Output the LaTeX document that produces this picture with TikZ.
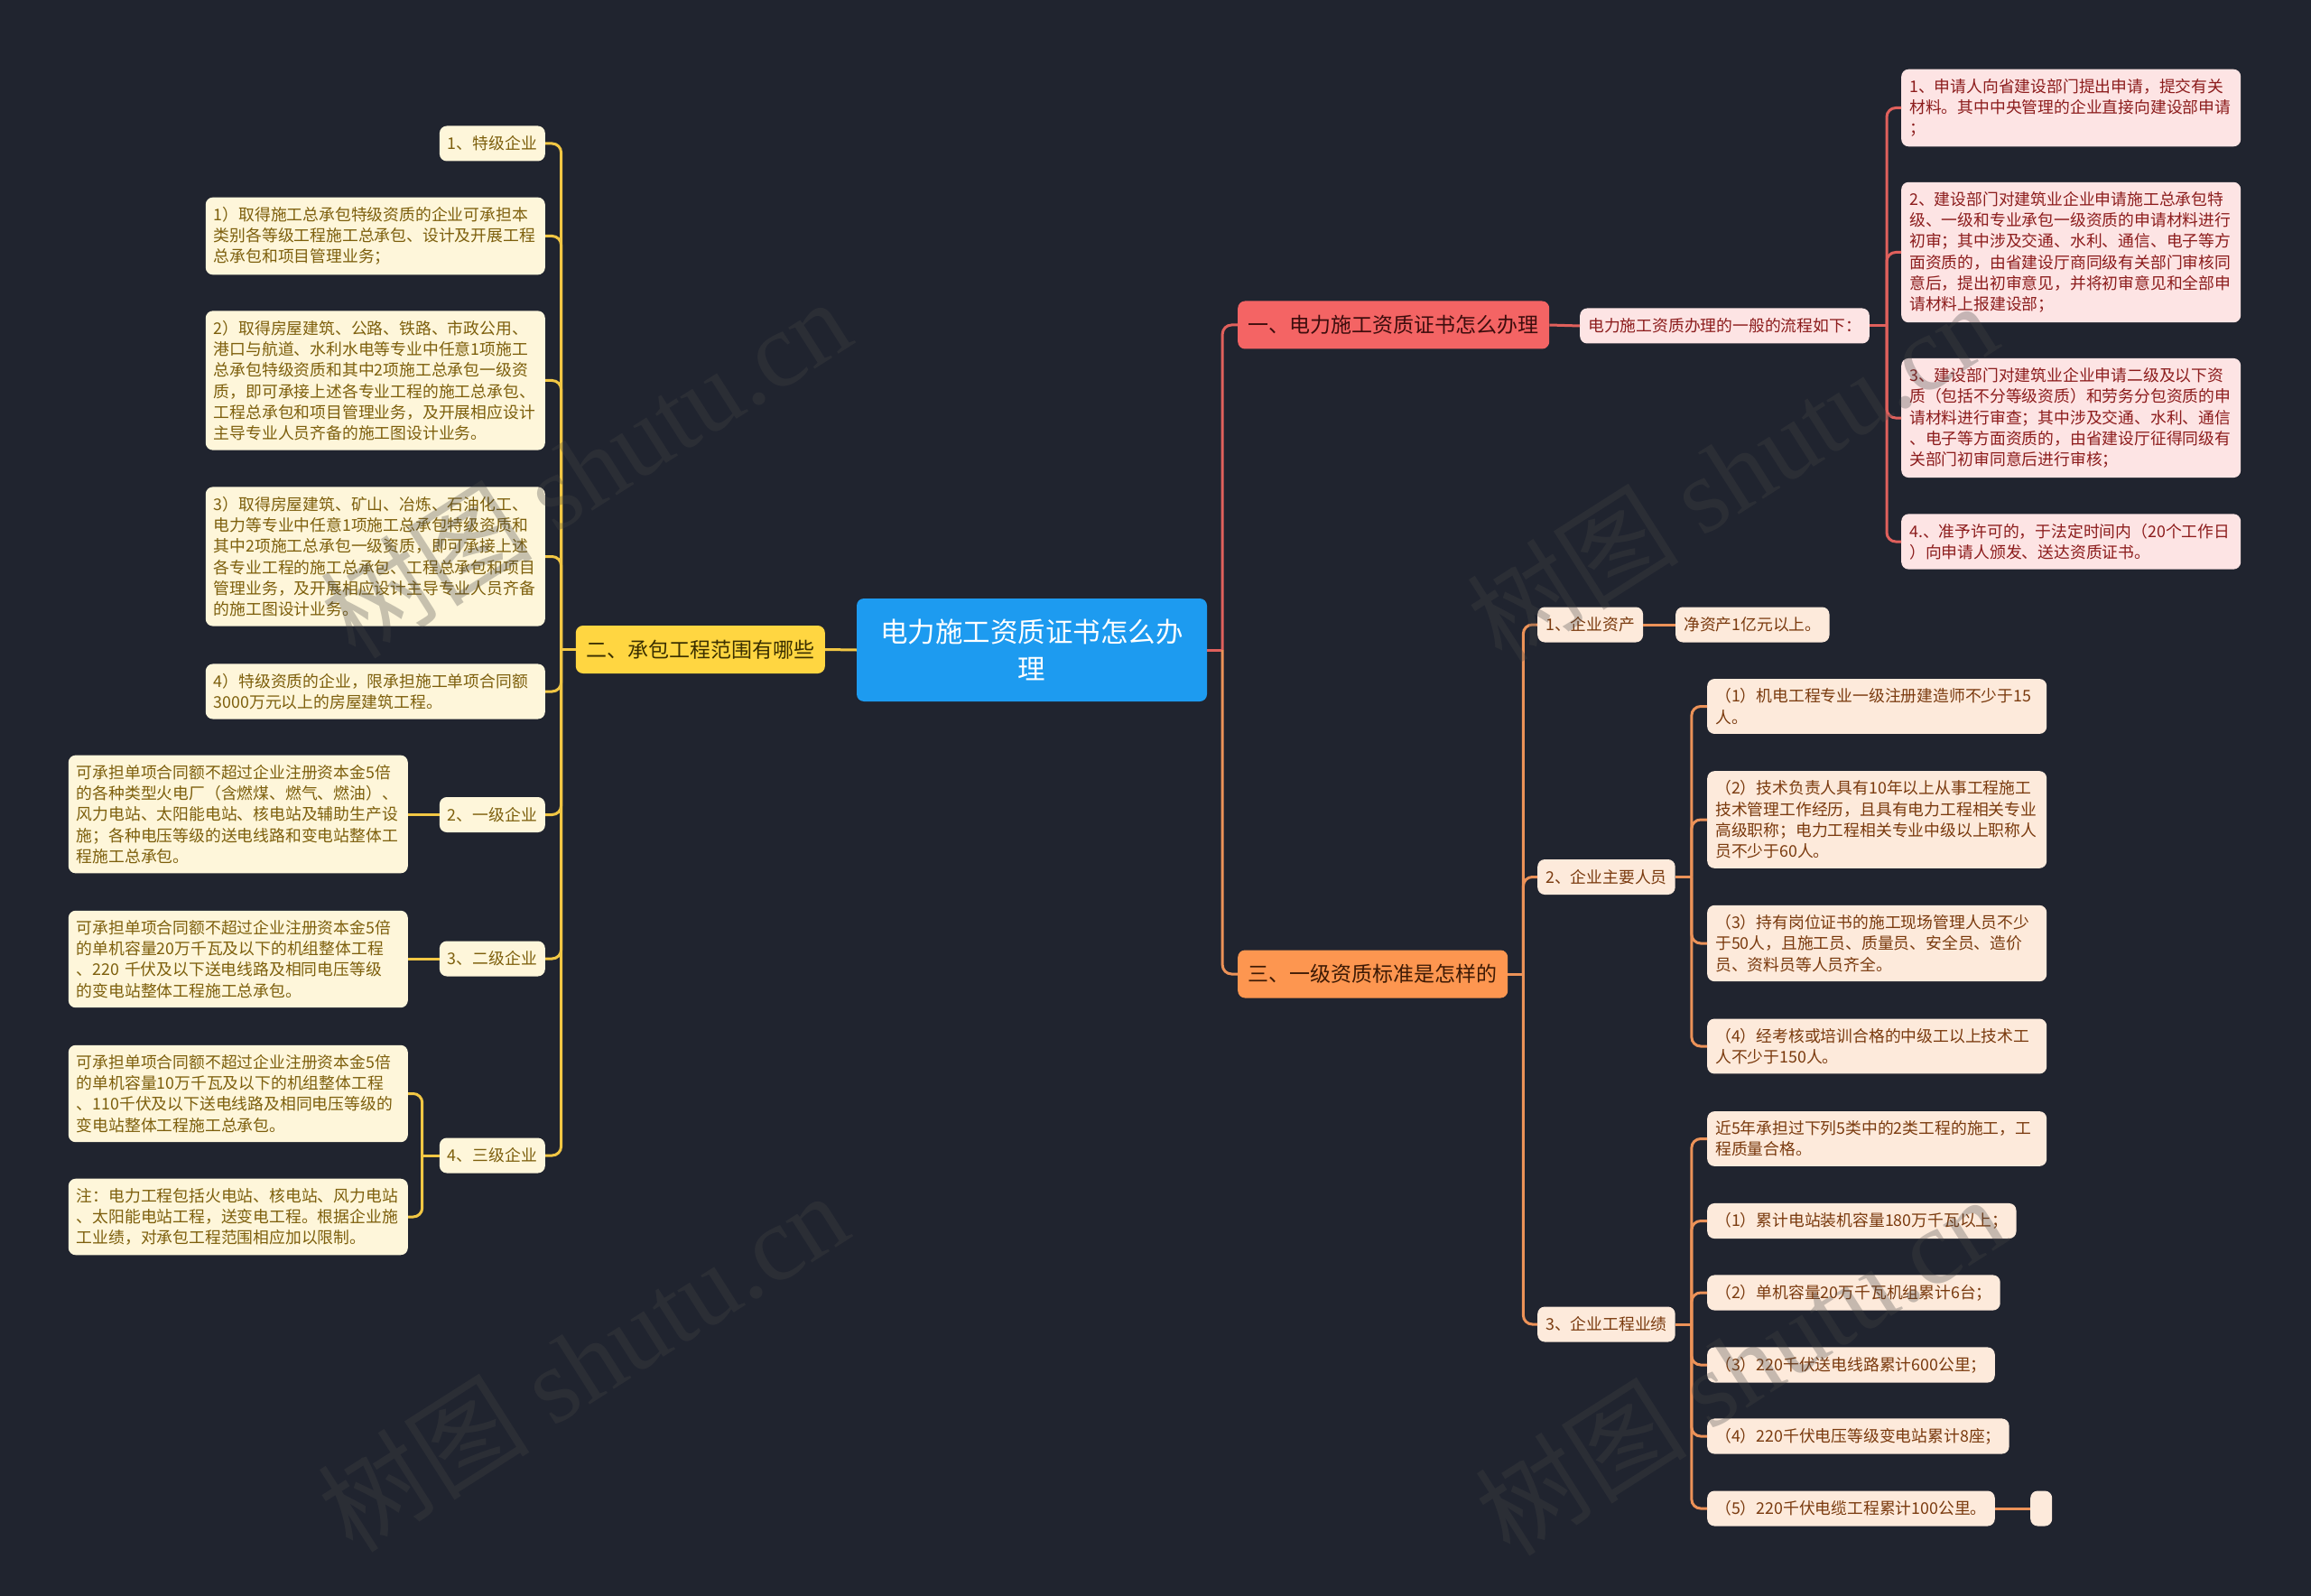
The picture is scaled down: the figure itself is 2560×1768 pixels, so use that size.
\documentclass[tikz,border=0pt]{standalone}
\usepackage{fontspec}
\setmainfont{Noto Sans CJK SC}
\newfontfamily\wmfont{Liberation Serif}
\definecolor{bgnavy}{HTML}{20242F}
\definecolor{rootblue}{HTML}{1D9BF0}
\definecolor{redfill}{HTML}{F46464}
\definecolor{redline}{HTML}{E0605C}
\definecolor{redtext}{HTML}{3D0D0D}
\definecolor{pinkfill}{HTML}{FDE4E4}
\definecolor{pinktext}{HTML}{8C1C1C}
\definecolor{yelfill}{HTML}{FFD641}
\definecolor{yelline}{HTML}{F2C744}
\definecolor{yeltext}{HTML}{3A2F00}
\definecolor{creamfill}{HTML}{FEF6DA}
\definecolor{creamtext}{HTML}{7D5F0C}
\definecolor{orfill}{HTML}{FD9650}
\definecolor{orline}{HTML}{EC9258}
\definecolor{ortext}{HTML}{3D1A05}
\definecolor{peachfill}{HTML}{FDEADB}
\definecolor{peachtext}{HTML}{7A3A0E}
\definecolor{wmgray}{HTML}{464646}

\begin{document}
\begin{tikzpicture}[x=1pt, y=-1pt,
  mapbox/.style={rounded corners=8pt, align=left},
  leaf/.style={mapbox, font=\fontsize{17.8}{23.3}\selectfont, inner xsep=9pt, inner ysep=10.5pt, minimum height=39pt},
  wideleaf/.style={text width=358pt},
  rleaf/.style={leaf, fill=pinkfill, text=pinktext},
  yleaf/.style={leaf, fill=creamfill, text=creamtext},
  oleaf/.style={leaf, fill=peachfill, text=peachtext},
  branch/.style={mapbox, font=\fontsize{23}{28}\selectfont, inner xsep=11.5pt, minimum height=53pt},
  rlink/.style={redline, line width=3pt},
  ylink/.style={yelline, line width=3pt},
  olink/.style={orline, line width=3pt},
  wmark/.style={text=wmgray, opacity=0.3, font=\fontsize{118}{120}\selectfont, rotate=32.5}]

\fill[bgnavy] (0,0) rectangle (2560,1768);

% centre and main branches
\node[mapbox, fill=rootblue, text=white, align=center, font=\fontsize{30.5}{41.7}\selectfont,
  minimum width=388pt, minimum height=114pt] (root) at (1143,720) {电力施工资质证书怎么办\\理};
\node[branch, fill=redfill, text=redtext, anchor=west] (rb) at (1371,360) {一、电力施工资质证书怎么办理};
\node[branch, fill=yelfill, text=yeltext, anchor=east] (yb) at (914,719.5) {二、承包工程范围有哪些};
\node[branch, fill=orfill, text=ortext, anchor=west] (ob) at (1371,1079) {三、一级资质标准是怎样的};

% branch one
\node[rleaf, anchor=west] (flow) at (1750,361) {电力施工资质办理的一般的流程如下：};
\node[rleaf, wideleaf, anchor=west] (p1) at (2106,119.5) {1、申请人向省建设部门提出申请，提交有关\\材料。其中中央管理的企业直接向建设部申请\\；};
\node[rleaf, wideleaf, anchor=west] (p2) at (2106,279.5) {2、建设部门对建筑业企业申请施工总承包特\\级、一级和专业承包一级资质的申请材料进行\\初审；其中涉及交通、水利、通信、电子等方\\面资质的，由省建设厅商同级有关部门审核同\\意后，提出初审意见，并将初审意见和全部申\\请材料上报建设部；};
\node[rleaf, wideleaf, anchor=west] (p3) at (2106,463) {3、建设部门对建筑业企业申请二级及以下资\\质（包括不分等级资质）和劳务分包资质的申\\请材料进行审查；其中涉及交通、水利、通信\\、电子等方面资质的，由省建设厅征得同级有\\关部门初审同意后进行审核；};
\node[rleaf, wideleaf, anchor=west] (p4) at (2106,600) {4.、准予许可的，于法定时间内（20个工作日\\）向申请人颁发、送达资质证书。};

% branch two
\node[yleaf, anchor=east] (y1) at (604,159) {1、特级企业};
\node[yleaf, wideleaf, anchor=east] (ys1) at (604,261.5) {1）取得施工总承包特级资质的企业可承担本\\类别各等级工程施工总承包、设计及开展工程\\总承包和项目管理业务；};
\node[yleaf, wideleaf, anchor=east] (ys2) at (604,421.5) {2）取得房屋建筑、公路、铁路、市政公用、\\港口与航道、水利水电等专业中任意1项施工\\总承包特级资质和其中2项施工总承包一级资\\质，即可承接上述各专业工程的施工总承包、\\工程总承包和项目管理业务，及开展相应设计\\主导专业人员齐备的施工图设计业务。};
\node[yleaf, wideleaf, anchor=east] (ys3) at (604,616.5) {3）取得房屋建筑、矿山、冶炼、石油化工、\\电力等专业中任意1项施工总承包特级资质和\\其中2项施工总承包一级资质，即可承接上述\\各专业工程的施工总承包、工程总承包和项目\\管理业务，及开展相应设计主导专业人员齐备\\的施工图设计业务。};
\node[yleaf, wideleaf, anchor=east] (ys4) at (604,766) {4）特级资质的企业，限承担施工单项合同额\\3000万元以上的房屋建筑工程。};
\node[yleaf, anchor=east] (y2) at (604,902.5) {2、一级企业};
\node[yleaf, wideleaf, anchor=east] (y2a) at (452,902) {可承担单项合同额不超过企业注册资本金5倍\\的各种类型火电厂（含燃煤、燃气、燃油）、\\风力电站、太阳能电站、核电站及辅助生产设\\施；各种电压等级的送电线路和变电站整体工\\程施工总承包。};
\node[yleaf, anchor=east] (y3) at (604,1062) {3、二级企业};
\node[yleaf, wideleaf, anchor=east] (y3a) at (452,1062.5) {可承担单项合同额不超过企业注册资本金5倍\\的单机容量20万千瓦及以下的机组整体工程\\、220 千伏及以下送电线路及相同电压等级\\的变电站整体工程施工总承包。};
\node[yleaf, anchor=east] (y4) at (604,1280) {4、三级企业};
\node[yleaf, wideleaf, anchor=east] (y4a) at (452,1211.5) {可承担单项合同额不超过企业注册资本金5倍\\的单机容量10万千瓦及以下的机组整体工程\\、110千伏及以下送电线路及相同电压等级的\\变电站整体工程施工总承包。};
\node[yleaf, wideleaf, anchor=east] (y4b) at (452,1348) {注：电力工程包括火电站、核电站、风力电站\\、太阳能电站工程，送变电工程。根据企业施\\工业绩，对承包工程范围相应加以限制。};

% branch three
\node[oleaf, anchor=west] (o1) at (1703,692) {1、企业资产};
\node[oleaf, anchor=west] (o1a) at (1856,692) {净资产1亿元以上。};
\node[oleaf, anchor=west] (o2) at (1703,971.5) {2、企业主要人员};
\node[oleaf, wideleaf, anchor=west] (o2a) at (1891,782.5) {（1）机电工程专业一级注册建造师不少于15\\人。};
\node[oleaf, wideleaf, anchor=west] (o2b) at (1891,908) {（2）技术负责人具有10年以上从事工程施工\\技术管理工作经历，且具有电力工程相关专业\\高级职称；电力工程相关专业中级以上职称人\\员不少于60人。};
\node[oleaf, wideleaf, anchor=west] (o2c) at (1891,1045) {（3）持有岗位证书的施工现场管理人员不少\\于50人，且施工员、质量员、安全员、造价\\员、资料员等人员齐全。};
\node[oleaf, wideleaf, anchor=west] (o2d) at (1891,1159) {（4）经考核或培训合格的中级工以上技术工\\人不少于150人。};
\node[oleaf, anchor=west] (o3) at (1703,1467) {3、企业工程业绩};
\node[oleaf, wideleaf, anchor=west] (o3a) at (1891,1261.5) {近5年承担过下列5类中的2类工程的施工，工\\程质量合格。};
\node[oleaf, anchor=west] (o3b) at (1891,1352.5) {（1）累计电站装机容量180万千瓦以上；};
\node[oleaf, anchor=west] (o3c) at (1891,1432) {（2）单机容量20万千瓦机组累计6台；};
\node[oleaf, anchor=west] (o3d) at (1891,1512) {（3）220千伏送电线路累计600公里；};
\node[oleaf, anchor=west] (o3e) at (1891,1591) {（4）220千伏电压等级变电站累计8座；};
\node[oleaf, anchor=west] (o3f) at (1891,1671) {（5）220千伏电缆工程累计100公里。};
\node[oleaf, anchor=west, minimum width=24pt, inner xsep=0pt] (o3g) at (2249,1671) {};

% connectors
\draw[rlink] (root.east) -- ++(17,0) coordinate (sr);
\draw[rlink, rounded corners=10pt] (sr) |- (rb.west);
\draw[olink, rounded corners=10pt] (sr) |- (ob.west);
\draw[ylink] (root.west) -- (yb.east);

\draw[rlink] (rb.east) -- (flow.west);
\draw[rlink] (flow.east) -- ++(19,0) coordinate (sf);
\foreach \c in {p1,p2,p3,p4}
  \draw[rlink, rounded corners=10pt] (sf) |- (\c.west);

\draw[ylink] (yb.west) -- ++(-16,0) coordinate (sy);
\foreach \c in {y1,ys1,ys2,ys3,ys4,y2,y3,y4}
  \draw[ylink, rounded corners=10pt] (sy) |- (\c.east);
\draw[ylink] (y2.west) -- (y2.west -| y2a.east);
\draw[ylink] (y3.west) -- (y3.west -| y3a.east);
\draw[ylink] (y4.west) -- ++(-19,0) coordinate (sy4);
\foreach \c in {y4a,y4b}
  \draw[ylink, rounded corners=10pt] (sy4) |- (\c.east);

\draw[olink] (ob.east) -- ++(17,0) coordinate (so);
\foreach \c in {o1,o2,o3}
  \draw[olink, rounded corners=10pt] (so) |- (\c.west);
\draw[olink] (o1.east) -- (o1a.west);
\draw[olink] (o2.east) -- ++(18,0) coordinate (so2);
\foreach \c in {o2a,o2b,o2c,o2d}
  \draw[olink, rounded corners=10pt] (so2) |- (\c.west);
\draw[olink] (o3.east) -- ++(18,0) coordinate (so3);
\foreach \c in {o3a,o3b,o3c,o3d,o3e,o3f}
  \draw[olink, rounded corners=10pt] (so3) |- (\c.west);
\draw[olink] (o3f.east) -- (o3g.west);

% watermarks
\node[wmark] (wm1) at (648,518) {树图 {\wmfont shutu.cn}};
\node[wmark] (wm2) at (1918,522) {树图 {\wmfont shutu.cn}};
\node[wmark] (wm3) at (645,1508) {树图 {\wmfont shutu.cn}};
\node[wmark] (wm4) at (1927,1512) {树图 {\wmfont shutu.cn}};
\end{tikzpicture}
\end{document}
